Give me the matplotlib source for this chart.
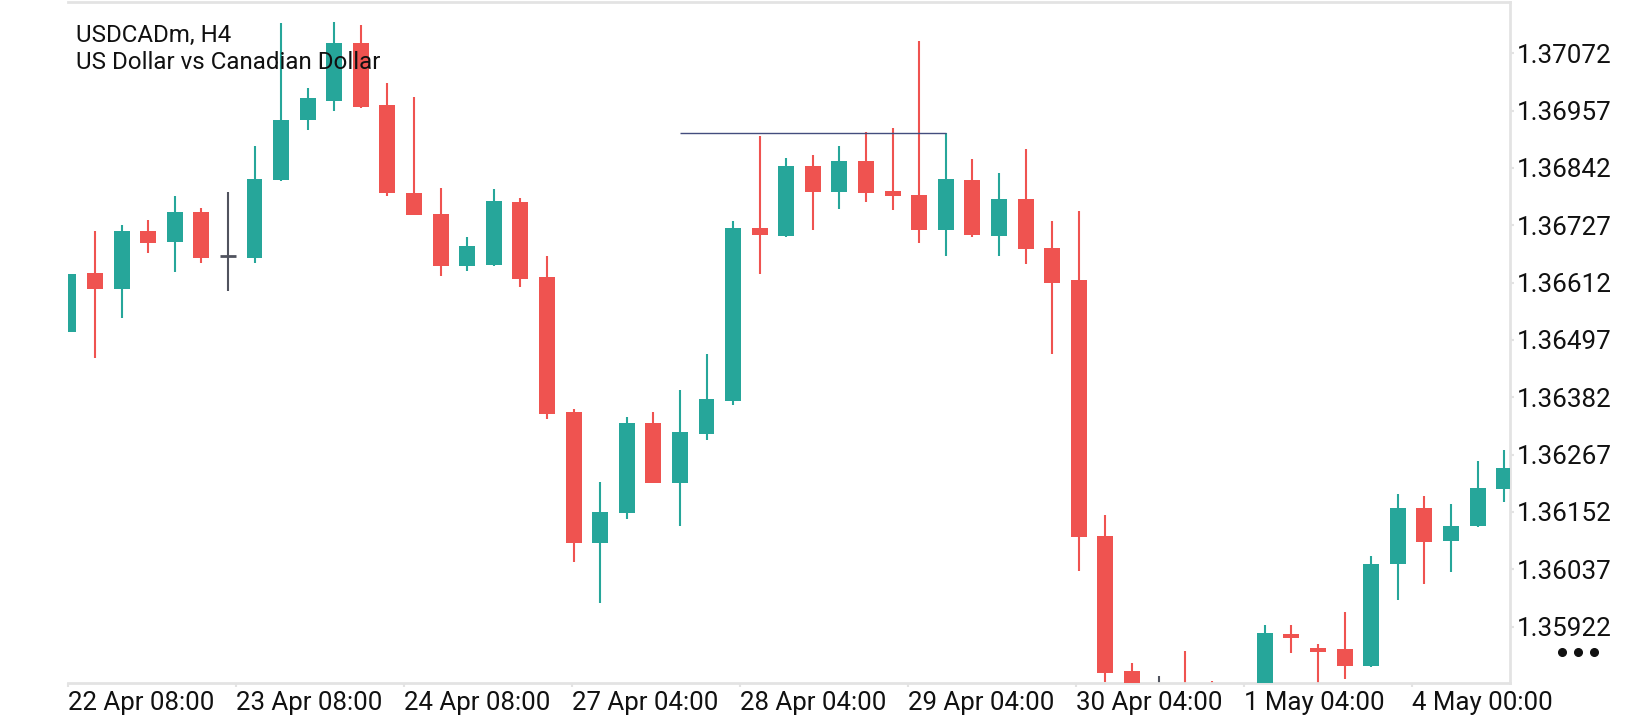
import matplotlib
matplotlib.use("Agg")
import matplotlib.pyplot as plt
import numpy as np

plt.rcParams["font.family"] = ["Roboto", "DejaVu Sans"]

# USDCADm H4 candles (first bar = 22 Apr 08:00)
opens = [1.36512, 1.36631, 1.36600, 1.36716, 1.36694, 1.36754, 1.36666, 1.36662, 1.36818, 1.36937,
         1.36977, 1.37093, 1.36968, 1.36792, 1.36750, 1.36646, 1.36648, 1.36774, 1.36624, 1.36353,
         1.36089, 1.36149, 1.36331, 1.36211, 1.36309, 1.36374, 1.36722, 1.36706, 1.36845, 1.36794,
         1.36856, 1.36796, 1.36788, 1.36718, 1.36818, 1.36706, 1.36780, 1.36682, 1.36617, 1.36104,
         1.35834, 1.35790, 1.35802, 1.35800, 1.35770, 1.35790, 1.35908, 1.35880, 1.35878, 1.35844,
         1.36047, 1.36160, 1.36093, 1.36123, 1.36199]
highs = [1.36630, 1.36716, 1.36728, 1.36738, 1.36786, 1.36761, 1.36793, 1.36886, 1.37132, 1.37002,
         1.37135, 1.37129, 1.37012, 1.36984, 1.36801, 1.36704, 1.36799, 1.36781, 1.36666, 1.36358,
         1.36212, 1.36342, 1.36353, 1.36397, 1.36469, 1.36736, 1.36906, 1.36862, 1.36868, 1.36886,
         1.36914, 1.36922, 1.37097, 1.36912, 1.36860, 1.36832, 1.36880, 1.36736, 1.36756, 1.36146,
         1.35849, 1.35824, 1.35874, 1.35814, 1.35800, 1.35926, 1.35926, 1.35888, 1.35951, 1.36063,
         1.36188, 1.36184, 1.36168, 1.36255, 1.36277]
lows = [1.36512, 1.36460, 1.36541, 1.36671, 1.36634, 1.36651, 1.36596, 1.36652, 1.36816, 1.36917,
        1.36957, 1.36963, 1.36785, 1.36747, 1.36626, 1.36636, 1.36646, 1.36604, 1.36339, 1.36051,
        1.35970, 1.36138, 1.36210, 1.36123, 1.36297, 1.36367, 1.36630, 1.36704, 1.36718, 1.36760,
        1.36773, 1.36758, 1.36692, 1.36666, 1.36704, 1.36666, 1.36650, 1.36469, 1.36033, 1.35811,
        1.35765, 1.35760, 1.35775, 1.35780, 1.35760, 1.35780, 1.35870, 1.35800, 1.35818, 1.35842,
        1.35975, 1.36008, 1.36031, 1.36121, 1.36172]
closes = [1.36630, 1.36600, 1.36716, 1.36692, 1.36754, 1.36662, 1.36666, 1.36820, 1.36938, 1.36982,
          1.37093, 1.36965, 1.36791, 1.36748, 1.36646, 1.36686, 1.36776, 1.36620, 1.36348, 1.36089,
          1.36152, 1.36331, 1.36211, 1.36313, 1.36379, 1.36722, 1.36708, 1.36845, 1.36794, 1.36856,
          1.36791, 1.36786, 1.36718, 1.36820, 1.36708, 1.36780, 1.36680, 1.36612, 1.36101, 1.35829,
          1.35785, 1.35790, 1.35790, 1.35795, 1.35790, 1.35910, 1.35900, 1.35872, 1.35844, 1.36048,
          1.36160, 1.36091, 1.36124, 1.36200, 1.36241]

time_labels = ["22 Apr 08:00", "23 Apr 08:00", "24 Apr 08:00", "27 Apr 04:00", "28 Apr 04:00",
               "29 Apr 04:00", "30 Apr 04:00", "1 May 04:00", "4 May 00:00"]
price_ticks = [1.35922, 1.36037, 1.36152, 1.36267, 1.36382, 1.36497,
               1.36612, 1.36727, 1.36842, 1.36957, 1.37072]

# horizontal level drawn on the chart
level_price = 1.36912
level_from, level_to = 23, 33

UP, DOWN, FLAT = "#26a69a", "#ef5350", "#50535e"
GRID = "#e3e3e3"

o = np.array(opens); h = np.array(highs); l = np.array(lows); c = np.array(closes)
x = np.arange(len(o))
colors = np.where(c > o, UP, np.where(c < o, DOWN, FLAT))

fig = plt.figure(figsize=(16.4, 7.2), dpi=100)
ax = fig.add_axes([68.4 / 1640, 1 - 683 / 720, (1510 - 68.4) / 1640, (683 - 2.3) / 720])

ax.vlines(x, l, h, colors=colors, linewidth=1.5, zorder=2)
body_w = 0.6
ax.bar(x, np.abs(c - o), bottom=np.minimum(o, c), width=body_w, color=colors,
       linewidth=0, zorder=3)
flat = c == o
ax.hlines(o[flat], x[flat] - body_w / 2, x[flat] + body_w / 2, colors=FLAT, linewidth=2, zorder=3)

ax.hlines(level_price, level_from, level_to, colors="#434d7e", linewidth=1.0, zorder=4)

ax.set_xlim(0, 54.22)
ax.set_ylim(1.35809, 1.37174)

ax.set_xticks(np.arange(len(time_labels)) * 6.315)
ax.set_xticklabels(time_labels, ha="left")
ax.set_yticks(price_ticks)
ax.set_yticklabels([f"{p:.5f}" for p in price_ticks])
ax.yaxis.tick_right()
ax.tick_params(axis="both", colors=GRID, labelcolor="#111111", length=3, width=1.5)
ax.tick_params(axis="x", labelsize=18.6, pad=3)
ax.tick_params(axis="y", labelsize=18.75, pad=2)

for side in ["top", "right", "bottom"]:
    ax.spines[side].set_color(GRID)
    ax.spines[side].set_linewidth(2)
ax.spines["left"].set_visible(False)

fig.text(76 / 1640, 1 - 41.7 / 720, "USDCADm, H4", fontsize=17.4, color="#111111", va="baseline")
fig.text(76 / 1640, 1 - 69.3 / 720, "US Dollar vs Canadian Dollar", fontsize=17.4, color="#111111",
         va="baseline")

# the "more" dots under the price scale
for dx in (1562, 1578, 1594):
    fig.add_artist(plt.Line2D([dx / 1640], [1 - 652 / 720], marker="o", markersize=5.5,
                              color="#111111", linestyle="none", transform=fig.transFigure))

fig.savefig("out.png", dpi=100)
